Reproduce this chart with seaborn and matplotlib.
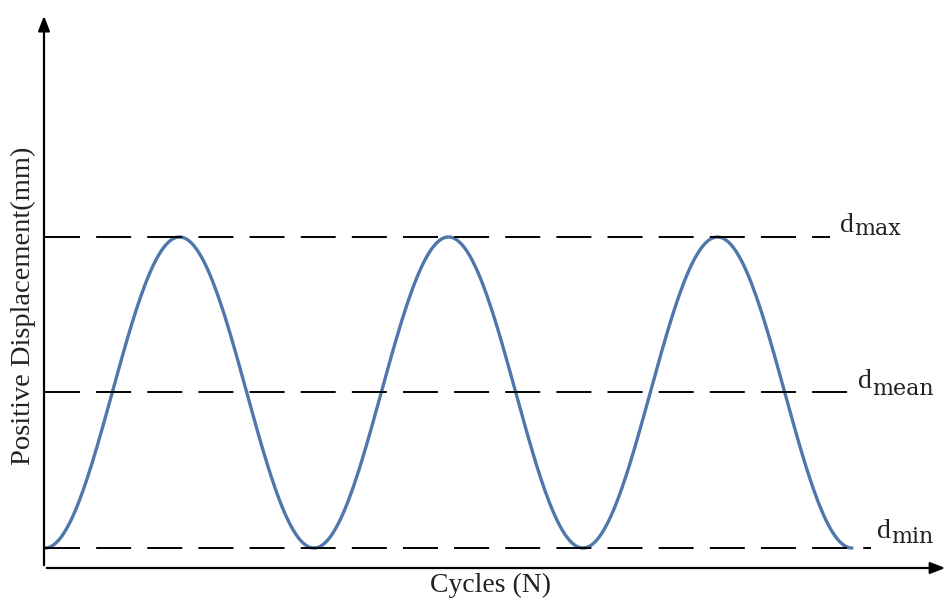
import numpy as np
import pandas as pd
import seaborn as sns
import matplotlib.pyplot as plt

# dane: poziomy przemieszczenia i liczba cykli
d_min = 0.0
d_max = 1.0
d_mean = (d_min + d_max) / 2
n_cycles = 3
level_names = ['max', 'mean', 'min']
level_values = [d_max, d_mean, d_min]
line_ends = [2.92, 2.99, 3.07]

sns.set_style('white')
plt.rcParams['font.family'] = ['Liberation Serif', 'DejaVu Serif']

# przebieg sinusoidalny obciazenia
N = np.linspace(0, n_cycles, 600)
df = pd.DataFrame({'N': N, 'd': d_mean - (d_max - d_mean) * np.cos(2 * np.pi * N)})

fig = plt.figure(figsize=(9.51, 6.05), dpi=100)
ax = fig.add_axes([44 / 951, 37 / 605, 907 / 951, 568 / 605])
x0, x1 = -0.0037, 3.368
y0, y1 = -0.0643, 1.762
ax.set_xlim(x0, x1)
ax.set_ylim(y0, y1)

sns.lineplot(data=df, x='N', y='d', color='#4f77aa', lw=2.4, ax=ax)

# linie przerywane dla poziomow
for v, e in zip(level_values, line_ends):
    ax.plot([0, e], [v, v], color='black', lw=1.4,
            linestyle=(0, (18, 8.3)))

# etykiety poziomow: "d" i indeks dolny (przesuniecie w pt)
label_pos = {
    'max': ((2.955, 1.016), 2),
    'mean': ((3.022, 0.514), 5),
    'min': ((3.093, 0.032), 3.5),
}
for name in level_names:
    (dx, dy), drop = label_pos[name]
    ax.text(dx, dy, 'd', fontsize=20, color='#222222', ha='left', va='baseline')
    ax.annotate(name, xy=(dx, dy), xytext=(10.5, -drop), textcoords='offset points',
                fontsize=16, family='DejaVu Serif', color='#222222',
                ha='left', va='baseline')

# osie ze strzalkami
for s in ax.spines.values():
    s.set_visible(False)
ax.annotate('', xy=(x0, 1.72), xytext=(x0, y0),
            arrowprops=dict(arrowstyle='-|>,head_length=0.9,head_width=0.35', color='black', lw=1.6),
            annotation_clip=False)
ax.annotate('', xy=(3.357, y0), xytext=(x0, y0),
            arrowprops=dict(arrowstyle='-|>,head_length=0.9,head_width=0.35', color='black', lw=1.6),
            annotation_clip=False)
ax.set_xticks([])
ax.set_yticks([])
ax.set_xlabel('')
ax.set_ylabel('')

fig.text(491 / 951, 1 - 585 / 605, 'Cycles (N)', fontsize=20, ha='center', va='center',
         color='#222222')
fig.text(23 / 951, 1 - 306 / 605, 'Positive Displacement(mm)', fontsize=20.5,
         ha='center', va='center', rotation=90, color='#222222')

fig.savefig('out.png', dpi=100)
